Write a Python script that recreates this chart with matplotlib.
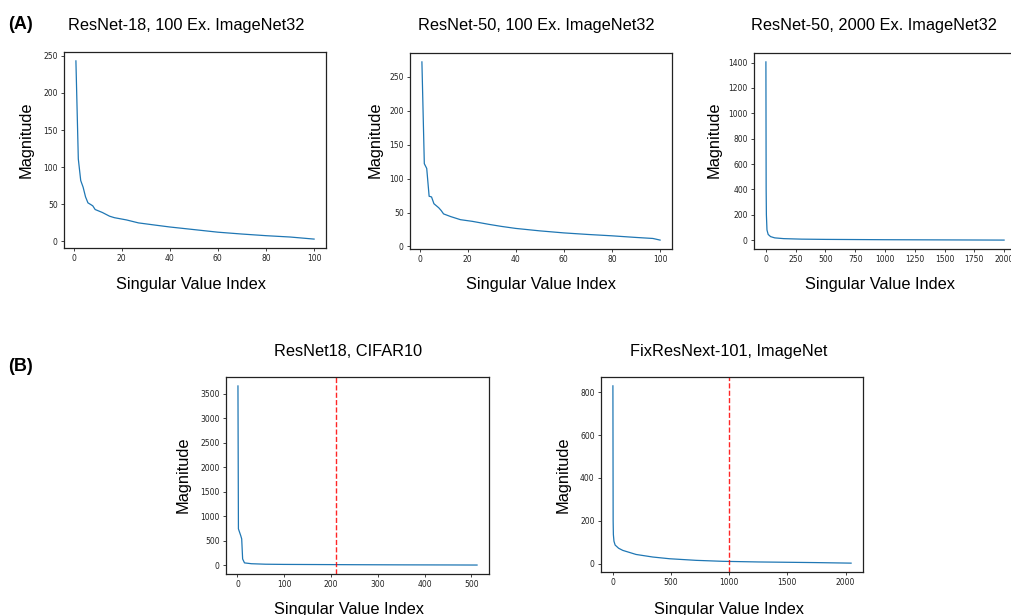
import matplotlib
matplotlib.use("Agg")
import matplotlib.pyplot as plt

# ---------------- data ----------------
r18_x = [1, 2, 3, 4, 5, 6, 8, 9, 12, 15, 17, 22, 27, 34, 40, 50, 60, 70, 80, 90, 100]
r18_y = [243, 111, 82, 73, 60, 52, 48, 43, 39, 34, 32, 29, 25, 22, 19.5, 16, 12.5, 10, 7.8, 6, 3.2]

r50_x = [1, 2, 3, 4, 5, 6, 8, 9, 10, 13, 17, 22, 29, 34, 40, 50, 60, 70, 80, 90, 97, 100]
r50_y = [272, 122, 115, 74, 73, 63, 57, 53, 48, 44, 39.5, 37, 32.5, 29.6, 26.6, 23, 20, 17.7, 15.7, 13.3, 11.8, 9.4]

r50b_x = [1, 3, 5, 10, 20, 40, 75, 150, 300, 500, 1000, 1500, 2000]
r50b_y = [1405, 400, 200, 80, 45, 28, 18, 12, 8, 6, 3.5, 2, 0.5]

cifar_x = [1, 2, 7, 9, 11, 15, 30, 60, 100, 150, 250, 350, 450, 512]
cifar_y = [3660, 740, 600, 535, 125, 45, 28, 18, 14, 12, 8, 5, 3, 1]
cifar_cut = 211

fix_x = [1, 3, 5, 10, 20, 50, 86, 200, 344, 488, 717, 946, 1250, 1500, 1750, 2048]
fix_y = [830, 200, 136, 105, 87, 72, 62, 43, 31, 23, 15.5, 11, 8, 6.5, 5, 2.5]
fix_cut = 1000

titles = ["ResNet-18, 100 Ex. ImageNet32", "ResNet-50, 100 Ex. ImageNet32",
          "ResNet-50, 2000 Ex. ImageNet32", "ResNet18, CIFAR10", "FixResNext-101, ImageNet"]
xlabel = "Singular Value Index"
ylabel = "Magnitude"
panel_labels = ["(A)", "(B)"]

xticks = [[0, 20, 40, 60, 80, 100], [0, 20, 40, 60, 80, 100],
          [0, 250, 500, 750, 1000, 1250, 1500, 1750, 2000],
          [0, 100, 200, 300, 400, 500], [0, 500, 1000, 1500, 2000]]
yticks = [[0, 50, 100, 150, 200, 250], [0, 50, 100, 150, 200, 250],
          [0, 200, 400, 600, 800, 1000, 1200, 1400],
          [0, 500, 1000, 1500, 2000, 2500, 3000, 3500], [0, 200, 400, 600, 800]]

# ---------------- layout ----------------
W, H = 1012, 615
fig = plt.figure(figsize=(W / 100, H / 100), dpi=100)
LF = ["Liberation Sans", "DejaVu Sans"]


def add_ax(l, t, r, b):
    return fig.add_axes([l / W, 1 - b / H, (r - l) / W, (b - t) / H])


def ftext(x, y, s, **kw):
    fig.text(x / W, 1 - y / H, s, **kw)


boxes = [(64, 52, 326, 248), (410, 53, 672, 249), (754, 53, 1016, 249),
         (226, 377, 489, 574), (601, 377, 863, 572)]
series = [(r18_x, r18_y), (r50_x, r50_y), (r50b_x, r50b_y), (cifar_x, cifar_y), (fix_x, fix_y)]
cuts = [None, None, None, cifar_cut, fix_cut]

title_pos = [(186, 30), (536, 30), (874, 30), (348, 356), (729, 356)]
xlab_pos = [(191, 289), (541, 289), (880, 289), (349, 614), (729, 614)]
ylab_pos = [(26, 140), (375, 140), (714, 140), (183, 475), (563, 475)]

for i in range(5):
    ax = add_ax(*boxes[i])
    xs, ys = series[i]
    ax.plot(xs, ys, color="#1f77b4", lw=0.9)
    if cuts[i] is not None:
        ax.axvline(cuts[i], color="red", ls="--", lw=1.0, alpha=0.85)
    ax.set_xticks(xticks[i])
    ax.set_yticks(yticks[i])
    ax.tick_params(labelsize=5.5, length=2.5, width=0.6, pad=2, colors="#222222")
    for sp in ax.spines.values():
        sp.set_linewidth(0.9)
        sp.set_color("#222222")
    ftext(*title_pos[i], titles[i], ha="center", va="baseline", fontsize=11.8, family=LF)
    ftext(*xlab_pos[i], xlabel, ha="center", va="baseline", fontsize=11.8, family=LF)
    ftext(*ylab_pos[i], ylabel, ha="center", va="center", rotation=90, fontsize=11.8, family=LF)

ftext(8, 29, panel_labels[0], ha="left", va="baseline", fontsize=13, fontweight="bold", family=LF)
ftext(8, 371, panel_labels[1], ha="left", va="baseline", fontsize=13, fontweight="bold", family=LF)

fig.savefig("out.png", dpi=100)
